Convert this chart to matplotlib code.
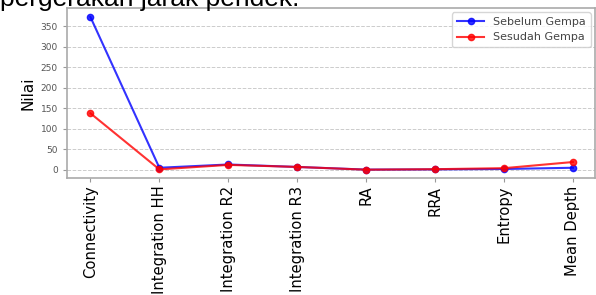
import matplotlib
matplotlib.use("Agg")
import matplotlib.pyplot as plt

categories = ["Connectivity", "Integration HH", "Integration R2", "Integration R3",
              "RA", "RRA", "Entropy", "Mean Depth"]
sebelum = [373, 5, 13, 7, 0.5, 1, 2, 5]
sesudah = [138, 1, 12, 7, 0.3, 1.5, 4, 19]

fig = plt.figure(figsize=(5.96, 2.95), dpi=100)
ax = fig.add_axes([67/596, 1-178/295, (595-67)/596, (178-8)/295])

x = list(range(len(categories)))
ax.plot(x, sebelum, color="blue", marker="o", markersize=4.5, lw=1.5, alpha=0.8, label="Sebelum Gempa")
ax.plot(x, sesudah, color="red", marker="o", markersize=4.5, lw=1.5, alpha=0.8, label="Sesudah Gempa")

ax.set_xticks(x)
ax.set_xticklabels(categories, rotation=90, fontsize=10.6)
ax.set_yticks([0, 50, 100, 150, 200, 250, 300, 350])
ax.tick_params(axis="y", labelsize=6.5, labelcolor="#555555", color="#999999", length=3)
ax.tick_params(axis="x", color="#999999", length=3, pad=2.5)
ax.set_ylabel("Nilai", fontsize=11)
ax.grid(axis="y", linestyle="--", color="#cccccc", linewidth=0.7)
ax.set_ylim(-20, 395)
ax.set_xlim(-0.34, 7.32)
for s in ax.spines.values():
    s.set_color("#aaaaaa")
    s.set_linewidth(1.2)

leg = ax.legend(loc="upper right", fontsize=8, frameon=True, labelcolor="#444444",
                handlelength=2.5, borderaxespad=0.4)

fig.text(0.0, 1 - 6/295, "pergerakan jarak pendek.", fontsize=19, family="Liberation Sans",
         ha="left", va="baseline", color="black")

fig.savefig("out.png", dpi=100)
